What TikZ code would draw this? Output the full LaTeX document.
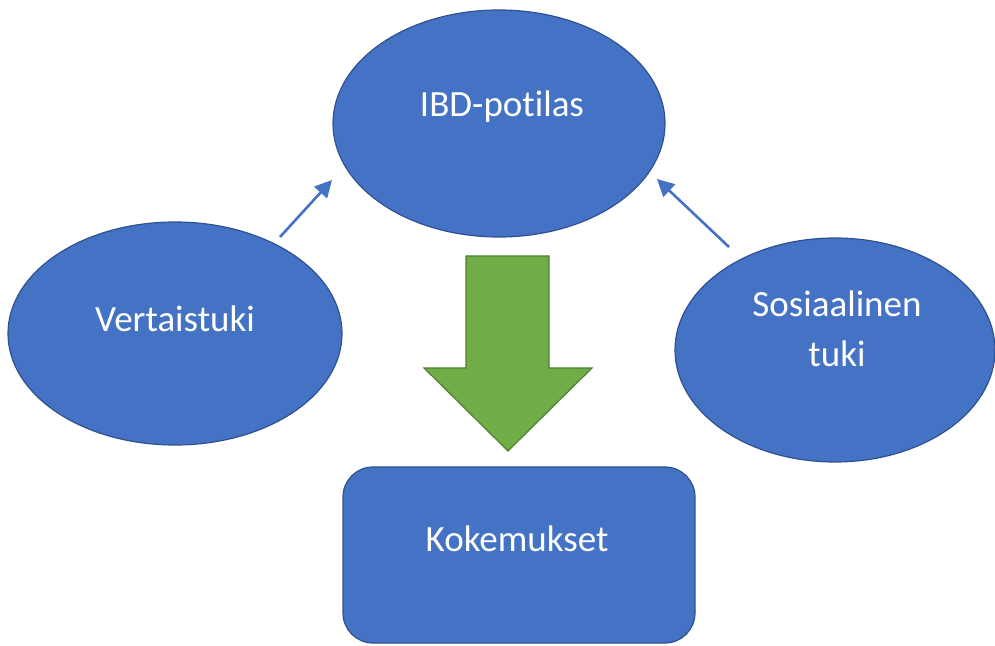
\documentclass[tikz,border=0pt]{standalone}
\usepackage{fontspec}
\setmainfont{Carlito}[Ligatures=NoCommon]
\usetikzlibrary{shapes.geometric,arrows.meta}
\definecolor{officeblue}{HTML}{4472C4}
\definecolor{officeblueline}{HTML}{2F528F}
\definecolor{officegreen}{HTML}{70AD47}
\definecolor{officegreenline}{HTML}{507E32}
\begin{document}
\begin{tikzpicture}[x=1pt,y=1pt,
  bubble/.style={ellipse,fill=officeblue,draw=officeblueline,line width=1.2pt,inner sep=0pt},
  boxshape/.style={rectangle,rounded corners=30pt,fill=officeblue,draw=officeblueline,line width=1.2pt,inner sep=0pt},
  caption/.style={text=white,font=\fontsize{37}{50}\selectfont,anchor=base,align=center,inner sep=0pt},
  link/.style={draw=officeblue,line width=2.6pt,-{Triangle[length=17pt,width=17pt]}},
  bigarrow/.style={fill=officegreen,draw=officegreenline,line width=1.2pt,line join=miter}]
\useasboundingbox (0,0) rectangle (995,645);

% ellipses and the outcome box
\node[bubble,minimum width=332pt,minimum height=227pt] (patient) at (499,521.5) {};
\node[bubble,minimum width=334pt,minimum height=223pt] (peer) at (175,311.5) {};
\node[bubble,minimum width=320pt,minimum height=224pt] (social) at (835,295) {};
\node[boxshape,minimum width=352pt,minimum height=176pt] (outcome) at (519,90) {};

% labels
\node[caption] (patientlbl) at (502,528) {IBD-potilas};
\node[caption] (peerlbl) at (175,313) {Vertaistuki};
\node[caption] (sociallbl) at (837,328) {Sosiaalinen};
\node[caption] (sociallbl2) at (837,278) {tuki};
\node[caption] (outcomelbl) at (517,93) {Kokemukset};

% support arrows pointing at the patient
\coordinate (peerfrom) at (280,408);
\coordinate (peerto) at (332,465);
\coordinate (socialfrom) at (729,398);
\coordinate (socialto) at (657,466);
\draw[link] (peerfrom) -- (peerto);
\draw[link] (socialfrom) -- (socialto);

% block arrow from patient to experiences
\draw[bigarrow] (466,389) -- (549,389) -- (549,277) -- (592,277) -- (508,194)
  -- (424,277) -- (466,277) -- cycle;
\end{tikzpicture}
\end{document}
